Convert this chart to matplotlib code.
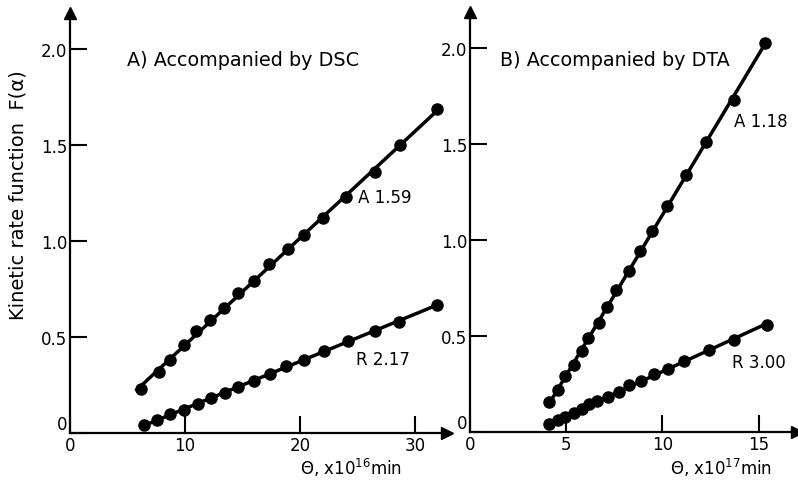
import numpy as np
import matplotlib
matplotlib.use("Agg")
import matplotlib.pyplot as plt

plt.rcParams['font.family'] = ['DejaVu Sans']

# panel A (DSC), theta in 1e16 min
dsc_a_x = [6.2, 7.7, 8.7, 9.9, 11.0, 12.2, 13.4, 14.6, 16.0, 17.3, 19.0, 20.4, 22.0, 24.0, 26.5, 28.7, 31.9]
dsc_a_y = [0.23, 0.32, 0.38, 0.46, 0.53, 0.59, 0.65, 0.73, 0.79, 0.88, 0.96, 1.03, 1.12, 1.23, 1.36, 1.50, 1.69]
dsc_r_x = [6.4, 7.6, 8.7, 9.9, 11.1, 12.3, 13.5, 14.6, 16.0, 17.4, 18.8, 20.4, 22.1, 24.2, 26.5, 28.6, 31.9]
dsc_r_y = [0.04, 0.07, 0.10, 0.12, 0.15, 0.18, 0.21, 0.24, 0.27, 0.31, 0.35, 0.38, 0.43, 0.48, 0.53, 0.58, 0.67]

# panel B (DTA), theta in 1e17 min
dta_a_x = [4.1, 4.6, 4.95, 5.4, 5.8, 6.15, 6.7, 7.1, 7.6, 8.25, 8.85, 9.45, 10.25, 11.25, 12.25, 13.7, 15.35]
dta_a_y = [0.155, 0.22, 0.29, 0.35, 0.42, 0.49, 0.57, 0.65, 0.74, 0.84, 0.945, 1.05, 1.18, 1.34, 1.51, 1.73, 2.03]
dta_r_x = [4.1, 4.6, 4.95, 5.4, 5.8, 6.2, 6.6, 7.15, 7.75, 8.25, 8.9, 9.55, 10.3, 11.15, 12.4, 13.7, 15.45]
dta_r_y = [0.04, 0.06, 0.08, 0.10, 0.12, 0.145, 0.16, 0.18, 0.21, 0.245, 0.265, 0.30, 0.33, 0.37, 0.43, 0.48, 0.56]

fig = plt.figure(figsize=(7.98, 4.89), dpi=100)
ax1 = fig.add_axes([70/798, 1-434/489, 377/798, 420/489])
ax2 = fig.add_axes([470/798, 1-433/489, 327/798, 420/489])

def draw(ax, xs, ys, tail=0.0):
    xs = np.array(xs)
    ys = np.array(ys)
    k, b = np.polyfit(xs, ys, 1)
    xx = np.array([xs[0] - tail, xs[-1]])
    ax.plot(xx, k*xx + b, color='black', lw=2.5, solid_capstyle='butt')
    ax.plot(xs, ys, 'o', color='black', ms=8)

def style(ax, xmax, xticks):
    ax.set_xlim(0, xmax)
    ax.set_ylim(0, 2.19)
    for s in ['top', 'right']:
        ax.spines[s].set_visible(False)
    for s in ['left', 'bottom']:
        ax.spines[s].set_linewidth(1.6)
    ax.set_xticks(xticks)
    ax.set_xticklabels([str(t) for t in xticks])
    ax.set_yticks([0, 0.5, 1.0, 1.5, 2.0])
    ax.set_yticklabels(['0', '0.5', '1.0', '1.5', '2.0'])
    ax.tick_params(direction='in', length=12, width=1.5, labelsize=12, pad=2)
    ax.get_yticklabels()[0].set_verticalalignment('bottom')
    ax.plot(0, 1, '^', color='black', ms=9, transform=ax.transAxes, clip_on=False)
    ax.plot(1, 0, '>', color='black', ms=9, transform=ax.transAxes, clip_on=False)

draw(ax1, dsc_a_x, dsc_a_y, tail=0.5)
draw(ax1, dsc_r_x, dsc_r_y)
draw(ax2, dta_a_x, dta_a_y)
draw(ax2, dta_r_x, dta_r_y)
style(ax1, 32.8, [0, 10, 20, 30])
style(ax2, 17.0, [0, 5, 10, 15])

ax1.text(25.1, 1.23, 'A 1.59', fontsize=12, va='center')
ax1.text(24.9, 0.385, 'R 2.17', fontsize=12, va='center')
ax2.text(13.7, 1.62, 'A 1.18', fontsize=12, va='center')
ax2.text(13.6, 0.365, 'R 3.00', fontsize=12, va='center')

fig.text(127/798, 1-60/489, 'A) Accompanied by DSC', fontsize=13.8, va='center')
fig.text(500/798, 1-60/489, 'B) Accompanied by DTA', fontsize=13.8, va='center')
fig.text(18/798, 1-195/489, 'Kinetic rate function  F(α)', fontsize=14,
         rotation=90, va='center', ha='center')
fig.text(300/798, 1-468/489, r'$\Theta$, x10$^{16}$min', fontsize=12, va='center')
fig.text(670/798, 1-468/489, r'$\Theta$, x10$^{17}$min', fontsize=12, va='center')

fig.savefig('out.png', dpi=100)
